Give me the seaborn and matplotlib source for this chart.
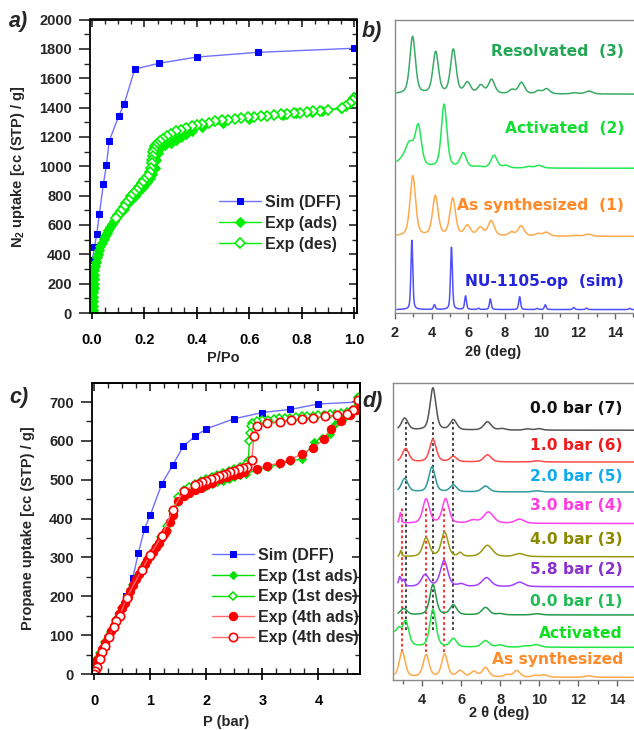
import numpy as np
import pandas as pd
import matplotlib
matplotlib.use("Agg")
import matplotlib.pyplot as plt
import seaborn as sns
from matplotlib.ticker import MultipleLocator, FormatStrFormatter

# ---------------- DATA ----------------
# panel a : N2 isotherm
sim_a_x = [0.001, 0.009, 0.018, 0.028, 0.043, 0.055, 0.065, 0.102, 0.123, 0.163, 0.254, 0.40, 0.632, 1.0]
sim_a_y = [358, 450, 540, 677, 878, 1010, 1170, 1343, 1427, 1662, 1701, 1744, 1776, 1804]
ads_a_x = [0.003, 0.004, 0.004, 0.005, 0.005, 0.005, 0.006, 0.006, 0.007, 0.008, 0.009, 0.011, 0.014,
           0.018, 0.022, 0.027, 0.032, 0.038, 0.044, 0.050, 0.056, 0.062, 0.068, 0.075, 0.082, 0.090,
           0.100, 0.110, 0.120, 0.135, 0.150, 0.165, 0.180, 0.195, 0.210, 0.220, 0.230, 0.240, 0.245,
           0.250, 0.255, 0.265, 0.280, 0.300, 0.320, 0.340, 0.360, 0.380, 0.420, 0.500, 0.600, 0.730,
           0.780, 0.840, 0.880, 0.950, 0.990, 1.000]
ads_a_y = [0, 20, 50, 80, 110, 140, 170, 200, 230, 260, 290, 320, 350,
           380, 405, 430, 455, 480, 505, 525, 545, 565, 585, 605, 625, 645,
           665, 690, 710, 740, 770, 800, 830, 860, 890, 920, 950, 990, 1040,
           1090, 1120, 1135, 1145, 1160, 1180, 1200, 1220, 1240, 1265, 1295, 1325, 1350,
           1360, 1372, 1378, 1395, 1440, 1460]
des_a_x = [1.0, 0.995, 0.985, 0.97, 0.955, 0.9, 0.87, 0.845, 0.82, 0.795, 0.77, 0.745, 0.72, 0.695,
           0.67, 0.645, 0.62, 0.595, 0.57, 0.545, 0.52, 0.495, 0.47, 0.445, 0.42, 0.40, 0.38, 0.36,
           0.34, 0.32, 0.30, 0.285, 0.27, 0.258, 0.248, 0.24, 0.236, 0.233, 0.231, 0.229, 0.227,
           0.224, 0.22, 0.212, 0.20, 0.19, 0.18, 0.17, 0.16, 0.15, 0.14, 0.13, 0.12, 0.11, 0.10, 0.09]
des_a_y = [1465, 1450, 1430, 1410, 1395, 1385, 1378, 1375, 1370, 1365, 1360, 1357, 1353, 1350,
           1345, 1340, 1337, 1333, 1328, 1323, 1318, 1312, 1305, 1297, 1288, 1280, 1272, 1262,
           1250, 1238, 1222, 1205, 1185, 1170, 1155, 1140, 1120, 1095, 1070, 1045, 1020,
           990, 960, 935, 905, 885, 862, 840, 818, 795, 772, 748, 722, 697, 670, 645]
legend_a = ["Sim (DFF)", "Exp (ads)", "Exp (des)"]

# panel c : propane isotherm
sim_c_x = [0.0, 0.21, 0.375, 0.57, 0.69, 0.79, 0.90, 1.0, 1.21, 1.40, 1.59, 1.80, 2.0, 2.5, 3.0, 3.5, 4.0, 4.72]
sim_c_y = [0, 73, 129, 202, 247, 311, 374, 408, 490, 537, 586, 612, 631, 657, 673, 681, 695, 700]
ads1_x = [0.0, 0.01, 0.03, 0.06, 0.1, 0.15, 0.2, 0.25, 0.3, 0.35, 0.4, 0.45, 0.5, 0.55, 0.6, 0.65, 0.7,
          0.75, 0.8, 0.85, 0.9, 0.95, 1.0, 1.05, 1.1, 1.15, 1.2, 1.25, 1.3, 1.35, 1.4, 1.5, 1.6, 1.7,
          1.8, 1.9, 2.0, 2.1, 2.2, 2.3, 2.4, 2.5, 2.6, 2.7, 2.9, 3.1, 3.3, 3.5, 3.71, 3.92, 4.06, 4.2,
          4.3, 4.45, 4.6, 4.69]
ads1_y = [0, 10, 22, 35, 48, 62, 77, 92, 108, 122, 137, 152, 167, 182, 197, 212, 228,
          242, 256, 268, 280, 291, 302, 313, 324, 335, 347, 358, 370, 390, 415, 442, 458, 467,
          474, 480, 485, 490, 494, 498, 503, 508, 512, 516, 524, 532, 540, 548, 554, 597, 608, 618,
          644, 660, 676, 713]
des1_x = [4.72, 4.68, 4.6, 4.5, 4.4, 4.3, 4.2, 4.1, 4.0, 3.9, 3.8, 3.7, 3.6, 3.5, 3.4, 3.3, 3.2, 3.1,
          3.0, 2.9, 2.82, 2.79, 2.78, 2.77, 2.75, 2.7, 2.6, 2.5, 2.4, 2.3, 2.2, 2.1, 2.0, 1.9, 1.8,
          1.7, 1.6, 1.5, 1.4, 1.3, 1.2, 1.1, 1.0, 0.9, 0.8, 0.7, 0.6, 0.5, 0.4, 0.3, 0.2, 0.1, 0.05,
          0.02, 0.0]
des1_y = [712, 686, 680, 675, 672, 670, 668, 667, 666, 665, 664, 663, 662, 660, 659, 658, 656, 655,
          653, 650, 645, 638, 620, 600, 548, 540, 533, 528, 523, 518, 513, 508, 503, 497, 490,
          482, 473, 455, 420, 380, 352, 328, 305, 280, 256, 230, 200, 170, 138, 108, 82, 55, 38,
          20, 0]
ads4_x = [0.0, 0.01, 0.03, 0.06, 0.1, 0.15, 0.2, 0.25, 0.3, 0.35, 0.4, 0.45, 0.5, 0.55, 0.6, 0.65, 0.7,
          0.75, 0.8, 0.85, 0.9, 0.95, 1.0, 1.05, 1.1, 1.15, 1.2, 1.25, 1.29, 1.35, 1.4, 1.49, 1.6, 1.7,
          1.8, 1.9, 2.0, 2.1, 2.25, 2.37, 2.49, 2.58, 2.67, 2.9, 3.09, 3.31, 3.5, 3.71, 3.9, 4.1, 4.22,
          4.4, 4.57, 4.66, 4.72]
ads4_y = [0, 12, 24, 37, 50, 64, 79, 94, 110, 124, 139, 154, 169, 184, 199, 214, 230,
          244, 258, 270, 282, 293, 304, 315, 326, 337, 349, 360, 369, 390, 410, 445, 458, 467,
          474, 480, 486, 492, 502, 506, 511, 515, 520, 528, 536, 543, 552, 567, 582, 604, 631,
          650, 666, 680, 700]
des4_x = [4.71, 4.62, 4.5, 4.33, 4.12, 3.91, 3.7, 3.51, 3.31, 3.08, 2.9, 2.85, 2.81, 2.72, 2.65, 2.58,
          2.5, 2.43, 2.36, 2.29, 2.22, 2.15, 2.08, 2.0, 1.93, 1.86, 1.8, 1.6, 1.4, 1.21, 1.0, 0.85, 0.58,
          0.46, 0.40, 0.35, 0.26, 0.20, 0.14, 0.10, 0.05, 0.02, 0.0]
des4_y = [704, 679, 670, 666, 663, 660, 657, 653, 649, 646, 638, 612, 550, 533, 530, 527,
          523, 520, 516, 513, 509, 505, 501, 497, 493, 489, 486, 471, 423, 355, 307, 268, 196,
          150, 137, 122, 94, 73, 56, 39, 19, 8, 0]
legend_c = ["Sim (DFF)", "Exp (1st ads)", "Exp (1st des)", "Exp (4th ads)", "Exp (4th des)"]

# panel b : PXRD (peak lists, offsets in relative units)
b_names = ["Resolvated  (3)", "Activated  (2)", "As synthesized  (1)", "NU-1105-op  (sim)"]
b_base = [75.4, 50.8, 28.2, 3.9]
b_pos = [[2.96, 4.22, 5.18, 5.95, 6.68, 7.27, 8.38, 8.90, 9.82, 10.27, 11.8, 12.58],
         [2.35, 2.80, 3.27, 4.68, 5.72, 6.50, 7.40, 8.05, 9.30, 9.85],
         [2.97, 4.20, 5.15, 5.95, 6.65, 7.25, 8.35, 8.88, 9.80, 10.25, 11.8, 12.55],
         [2.92, 4.15, 5.08, 5.85, 6.55, 7.20, 8.80, 9.75, 10.20, 11.75, 12.45, 14.8]]
b_hgt = [[19.0, 13.8, 14.6, 3.6, 2.7, 4.7, 1.3, 3.8, 1.0, 1.7, 0.4, 1.0],
         [2.0, 7.0, 13.0, 21.0, 4.8, 0.4, 4.2, 0.8, 0.5, 0.9],
         [20.0, 13.2, 12.4, 3.3, 2.7, 5.0, 1.2, 3.4, 0.8, 1.3, 0.3, 0.7],
         [23.0, 1.6, 20.7, 4.5, 0.4, 3.5, 4.3, 0.4, 1.6, 0.7, 0.5, 0.4]]
b_wid = [[0.36, 0.36, 0.36, 0.40, 0.40, 0.40, 0.36, 0.40, 0.36, 0.40, 0.45, 0.45],
         [0.9, 0.55, 0.40, 0.36, 0.40, 0.45, 0.40, 0.40, 0.40, 0.45],
         [0.36, 0.36, 0.36, 0.40, 0.40, 0.40, 0.36, 0.40, 0.36, 0.40, 0.45, 0.45],
         [0.12, 0.12, 0.12, 0.12, 0.12, 0.12, 0.12, 0.12, 0.12, 0.12, 0.12, 0.12]]
b_start = [2.1, 2.1, 2.1, 2.1]
b_line_col = ["#3aaa66", "#22e855", "#ffaa4a", "#5050ff"]
b_text_col = ["#22a855", "#11dd33", "#ff8a2a", "#2424dd"]
b_text_y = [89.5, 64.1, 38.5, 13.3]

# panel d : in-situ PXRD
d_names = ["0.0 bar (7)", "1.0 bar (6)", "2.0 bar (5)", "3.0 bar (4)", "4.0 bar (3)",
           "5.8 bar (2)", "0.0 bar (1)", "Activated", "As synthesized"]
d_base = [84.1, 73.4, 63.3, 52.7, 41.5, 31.4, 21.9, 11.0, 0.9]
d_pos = [[3.10, 4.55, 5.60, 7.35, 8.10, 9.40, 10.0],
         [3.15, 4.55, 5.60, 7.35, 9.90],
         [3.10, 4.50, 5.60, 7.25, 9.90],
         [2.88, 4.20, 5.20, 6.60, 7.40, 9.00],
         [2.90, 4.20, 5.15, 5.95, 7.35, 9.00],
         [2.85, 3.05, 4.15, 5.12, 6.00, 7.30, 9.00],
         [3.05, 4.55, 5.60, 7.25, 8.00, 9.90],
         [2.40, 2.80, 3.15, 4.55, 5.60, 7.25, 8.00, 9.30, 9.85],
         [2.97, 4.20, 5.15, 5.95, 6.65, 7.25, 8.35, 8.85, 9.80, 10.25, 12.55]]
d_hgt = [[4.0, 14.2, 3.4, 2.8, 0.5, 0.4, 0.5],
         [4.5, 7.6, 1.8, 2.4, 0.4],
         [4.5, 8.4, 2.3, 2.0, 0.4],
         [3.5, 8.2, 8.2, 1.0, 3.8, 1.4],
         [2.0, 6.3, 8.2, 1.2, 3.8, 1.0],
         [3.2, 2.2, 4.0, 8.7, 0.8, 3.0, 1.5],
         [2.1, 10.2, 3.3, 2.5, 0.4, 0.4],
         [5.0, 3.5, 8.2, 12.6, 2.8, 2.2, 0.7, 0.4, 0.9],
         [8.7, 7.5, 7.7, 2.1, 1.8, 3.2, 0.8, 2.2, 0.6, 0.8, 0.5]]
d_wid = [[0.40, 0.36, 0.40, 0.45, 0.4, 0.4, 0.4],
         [0.40, 0.40, 0.40, 0.45, 0.5],
         [0.40, 0.38, 0.40, 0.45, 0.5],
         [0.12, 0.40, 0.40, 0.5, 0.6, 0.55],
         [0.12, 0.40, 0.40, 0.25, 0.6, 0.6],
         [0.16, 0.16, 0.45, 0.45, 0.4, 0.55, 0.55],
         [0.40, 0.38, 0.40, 0.45, 0.4, 0.5],
         [0.7, 0.3, 0.38, 0.38, 0.38, 0.45, 0.45, 0.45, 0.5],
         [0.36, 0.36, 0.36, 0.40, 0.40, 0.40, 0.36, 0.40, 0.36, 0.40, 0.45]]
d_start = [2.75, 2.75, 2.75, 2.75, 2.75, 2.75, 2.75, 2.5, 2.6]
d_line_col = ["#555555", "#ff4a4a", "#2f9a9a", "#ff40ee", "#9a9a10", "#a040ff", "#26994a", "#22e844", "#ffaa4a"]
d_text_col = ["#111111", "#ee1c1c", "#11aaee", "#ff3ee0", "#8a8a00", "#8a30cc", "#22bb55", "#11dd22", "#ff8a2a"]
d_text_y = [91.4, 79.0, 68.4, 58.6, 47.3, 37.2, 26.3, 15.7, 7.0]
d_black_x = [3.15, 4.53, 5.60]
d_black_y = [17.0, 87.0]
d_red_x = [2.97, 4.20, 5.12]
d_red_y = [9.5, 58.0]

# ---------------- STYLE ----------------
sns.set_theme(style="ticks")
plt.rcParams["font.family"] = ["Liberation Sans", "DejaVu Sans"]
plt.rcParams["font.weight"] = "bold"
plt.rcParams["axes.labelweight"] = "bold"
plt.rcParams["mathtext.fontset"] = "custom"
plt.rcParams["mathtext.rm"] = "Liberation Sans:bold"
plt.rcParams["mathtext.bf"] = "Liberation Sans:bold"
plt.rcParams["mathtext.it"] = "Liberation Sans:bold:italic"

fig = plt.figure(figsize=(6.34, 7.30), dpi=100)
axA = fig.add_axes([90/634, 1-313/730, 267/634, 293.5/730])
axB = fig.add_axes([395/634, 1-313/730, 239/634, 293/730])
axC = fig.add_axes([92/634, 1-674/730, 268/634, 291/730])
axD = fig.add_axes([393/634, 1-680/730, 241/634, 297/730])

TICKFS = 10.5


def iso_axes(ax, xmaj, xmin, ymaj, ymin):
    for s in ax.spines.values():
        s.set_linewidth(1.3)
        s.set_color("black")
    ax.xaxis.set_major_locator(MultipleLocator(xmaj))
    ax.xaxis.set_minor_locator(MultipleLocator(xmin))
    ax.yaxis.set_major_locator(MultipleLocator(ymaj))
    ax.yaxis.set_minor_locator(MultipleLocator(ymin))
    ax.tick_params(axis="x", which="major", direction="inout", length=9, width=1.2,
                   labelsize=TICKFS, pad=10, colors="black")
    ax.tick_params(axis="x", which="minor", direction="in", length=4, width=1.0)
    ax.tick_params(axis="y", which="major", direction="out", length=8, width=1.2,
                   labelsize=TICKFS, pad=5)
    ax.tick_params(axis="y", which="minor", direction="out", length=4, width=1.0)
    top = ax.secondary_xaxis("top")
    top.xaxis.set_major_locator(MultipleLocator(xmaj))
    top.xaxis.set_minor_locator(MultipleLocator(xmin))
    top.tick_params(which="major", direction="in", length=6, width=1.2, labeltop=False)
    top.tick_params(which="minor", direction="in", length=3.5, width=1.0)
    top.spines["top"].set_linewidth(1.3)
    right = ax.secondary_yaxis("right")
    right.yaxis.set_major_locator(MultipleLocator(ymaj))
    right.yaxis.set_minor_locator(MultipleLocator(ymin))
    right.tick_params(which="major", direction="in", length=6, width=1.2, labelright=False)
    right.tick_params(which="minor", direction="in", length=3.5, width=1.0)
    right.spines["right"].set_linewidth(1.3)
    for lab in ax.get_xticklabels() + ax.get_yticklabels():
        lab.set_fontweight("bold")


# ---------------- PANEL A ----------------
blue, blue_l = "#0000ff", "#7070ff"
green = "#00ee00"
sns.lineplot(x=sim_a_x, y=sim_a_y, ax=axA, sort=False, estimator=None, color=blue_l, lw=1.0,
             marker="s", markersize=5, markerfacecolor=blue, markeredgecolor=blue, label=legend_a[0])
sns.lineplot(x=ads_a_x, y=ads_a_y, ax=axA, sort=False, estimator=None, color=green, lw=1.0,
             marker="D", markersize=5, markerfacecolor=green, markeredgecolor=green, label=legend_a[1])
sns.lineplot(x=des_a_x, y=des_a_y, ax=axA, sort=False, estimator=None, color=green, lw=1.0,
             marker="D", markersize=5, markerfacecolor="white", markeredgecolor=green,
             markeredgewidth=1.2, label=legend_a[2])
axA.set_xlim(-0.008, 1.012)
axA.set_ylim(0, 2000)
iso_axes(axA, 0.2, 0.05, 200, 100)
axA.xaxis.set_major_formatter(FormatStrFormatter("%.1f"))
axA.set_xlabel("P/Po", fontsize=TICKFS, fontweight="bold")
axA.set_ylabel(r"N$_2$ uptake [cc (STP) / g]", fontsize=TICKFS, fontweight="bold")
axA.yaxis.set_label_coords(-0.236, 0.5)
axA.xaxis.set_label_coords(0.5, -0.13)
legA = axA.legend(loc="upper left", bbox_to_anchor=(0.46, 0.425), frameon=False, fontsize=11.5,
                  handlelength=2.6, handletextpad=0.25, labelspacing=0.38, borderaxespad=0)

# ---------------- PANEL C ----------------
red, red_l = "#ff0000", "#ff6a6a"
green_c = "#00e000"
sns.lineplot(x=sim_c_x, y=sim_c_y, ax=axC, sort=False, estimator=None, color=blue_l, lw=1.0,
             marker="s", markersize=4.5, markerfacecolor=blue, markeredgecolor=blue, label=legend_c[0])
sns.lineplot(x=ads1_x, y=ads1_y, ax=axC, sort=False, estimator=None, color=green_c, lw=1.0,
             marker="D", markersize=4.5, markerfacecolor=green_c, markeredgecolor=green_c, label=legend_c[1])
sns.lineplot(x=des1_x, y=des1_y, ax=axC, sort=False, estimator=None, color=green_c, lw=1.0,
             marker="D", markersize=4.5, markerfacecolor="white", markeredgecolor=green_c,
             markeredgewidth=1.1, label=legend_c[2])
sns.lineplot(x=ads4_x, y=ads4_y, ax=axC, sort=False, estimator=None, color=red_l, lw=1.0,
             marker="o", markersize=6, markerfacecolor=red, markeredgecolor=red, label=legend_c[3])
sns.lineplot(x=des4_x, y=des4_y, ax=axC, sort=False, estimator=None, color=red_l, lw=1.0,
             marker="o", markersize=6, markerfacecolor="white", markeredgecolor=red,
             markeredgewidth=1.2, label=legend_c[4])
axC.set_xlim(-0.036, 4.74)
axC.set_ylim(0, 749)
iso_axes(axC, 1, 0.25, 100, 50)
axC.set_xlabel("P (bar)", fontsize=TICKFS, fontweight="bold")
axC.set_ylabel("Propane uptake [cc (STP) / g]", fontsize=TICKFS, fontweight="bold")
axC.yaxis.set_label_coords(-0.213, 0.5)
axC.xaxis.set_label_coords(0.5, -0.142)
legC = axC.legend(loc="upper left", bbox_to_anchor=(0.425, 0.455), frameon=False, fontsize=11.5,
                  handlelength=2.6, handletextpad=0.25, labelspacing=0.35, borderaxespad=0)


# ---------------- XRD helpers ----------------
def profile(x, base, pos, hgt, wid, eta=0.45):
    y = np.full_like(x, base, dtype=float)
    for p, h, w in zip(pos, hgt, wid):
        d = (x - p) / (w / 2.0)
        y = y + h * (eta / (1 + d ** 2) + (1 - eta) * np.exp(-np.log(2) * d ** 2))
    return y


def xrd_axes(ax, xlo, xhi, ylo):
    for k, s in ax.spines.items():
        s.set_color("#8a8a8a")
        s.set_linewidth(1.0)
    ax.spines["right"].set_visible(False)
    ax.set_xlim(xlo, xhi)
    ax.set_ylim(ylo, 100)
    ax.set_yticks([])
    ax.xaxis.set_major_locator(MultipleLocator(2))
    ax.xaxis.set_minor_locator(MultipleLocator(1))
    ax.tick_params(axis="x", which="major", direction="out", length=4.5, width=1.0, color="#666666",
                   labelsize=TICKFS, pad=4.5)
    ax.tick_params(axis="x", which="minor", direction="out", length=3, width=1.0, color="#666666")
    for lab in ax.get_xticklabels():
        lab.set_fontweight("bold")


TXTFS = 11.2

# ---------------- PANEL B ----------------
for i, nm in enumerate(b_names):
    xx = np.linspace(b_start[i], 15.1, 1400)
    df = pd.DataFrame({"two_theta": xx, "I": profile(xx, b_base[i], b_pos[i], b_hgt[i], b_wid[i])})
    sns.lineplot(data=df, x="two_theta", y="I", ax=axB, color=b_line_col[i], lw=1.1,
                 sort=False, estimator=None)
    axB.text(14.5, b_text_y[i], nm, color=b_text_col[i], ha="right", va="center",
             fontsize=TXTFS, fontweight="bold", family=["DejaVu Sans"])
xrd_axes(axB, 2, 2 + (634 - 395) / 18.33, 2.76)
axB.set_xlabel("2θ (deg)", fontsize=TICKFS, fontweight="bold")
axB.xaxis.set_label_coords(0.41, -0.108)
axB.set_ylabel("")

# ---------------- PANEL D ----------------
for xv in d_black_x:
    sns.lineplot(x=[xv, xv], y=d_black_y, ax=axD, color="#333333", lw=1.3, linestyle=(0, (1.5, 1.5)),
                 estimator=None, sort=False)
for xv in d_red_x:
    sns.lineplot(x=[xv, xv], y=d_red_y, ax=axD, color="#ff2222", lw=1.3, linestyle=(0, (1.5, 1.5)),
                 estimator=None, sort=False)
for i, nm in enumerate(d_names):
    xx = np.linspace(d_start[i], 15.0, 1400)
    df = pd.DataFrame({"two_theta": xx, "I": profile(xx, d_base[i], d_pos[i], d_hgt[i], d_wid[i])})
    sns.lineplot(data=df, x="two_theta", y="I", ax=axD, color=d_line_col[i], lw=1.1,
                 sort=False, estimator=None)
    axD.text(14.3, d_text_y[i], nm, color=d_text_col[i], ha="right", va="center",
             fontsize=TXTFS, fontweight="bold", family=["DejaVu Sans"])
xrd_axes(axD, 2.5, 4 + (634 - 422) / 19.5, 0)
axD.set_xlabel("2 θ (deg)", fontsize=TICKFS, fontweight="bold")
axD.xaxis.set_label_coords(0.44, -0.086)
axD.set_ylabel("")

# ---------------- panel letters ----------------
for lab, (px, py) in zip(["a)", "b)", "c)", "d)"], [(9, 22), (362, 32), (9, 397), (362, 401)]):
    fig.text(px / 634, 1 - py / 730, lab, fontsize=15.5, fontweight="bold", fontstyle="italic",
             ha="left", va="center")

fig.savefig("out.png", dpi=100)
